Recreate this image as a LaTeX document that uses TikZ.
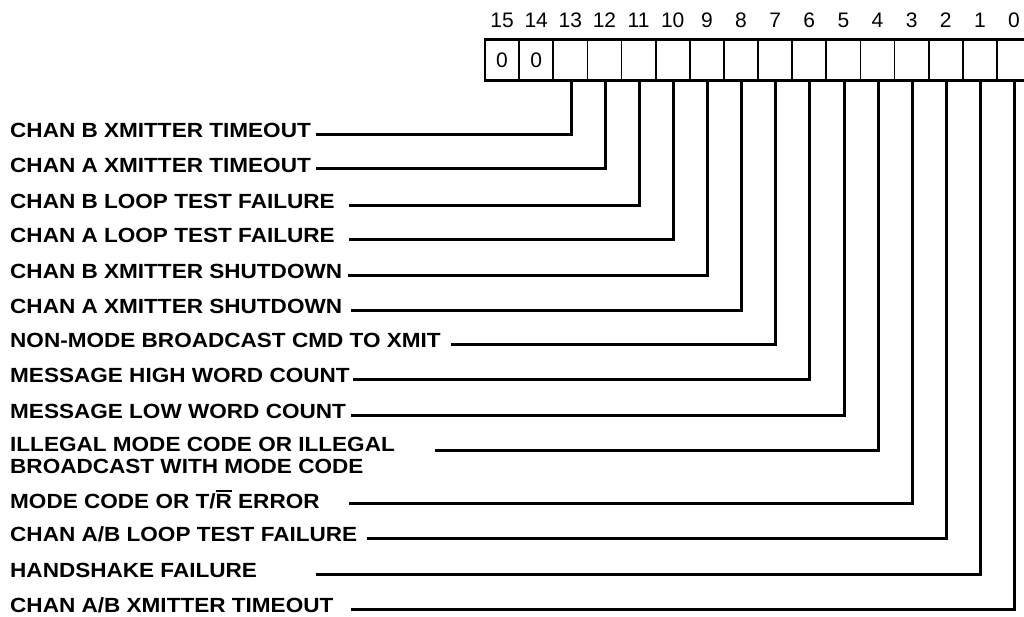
\documentclass[tikz,border=0pt]{standalone}
\usepackage{fontspec}
\setmainfont{Liberation Sans}
\newfontfamily\lblfont{Liberation Sans}[FakeStretch=1.1]
\newcommand\overR{{\setbox0\hbox{R}\rlap{\rule[\dimexpr\ht0+2.2pt\relax]{\wd0}{1.6pt}}R}}
\tikzset{
  cell/.style={draw, line width=1.8pt, minimum width=34.13pt, minimum height=41pt,
    inner sep=0pt, outer sep=0pt, font=\fontsize{21}{21}\selectfont},
  bitnum/.style={anchor=base, inner sep=0pt, font=\fontsize{21}{21}\selectfont},
  lbl/.style={anchor=base west, inner sep=0pt, align=left,
    font=\lblfont\bfseries\fontsize{20.5}{22.3}\selectfont},
  wire/.style={line width=3pt, line join=miter}
}
\begin{document}
\begin{tikzpicture}[x=1pt, y=-1pt]
\fill[white] (0,0) rectangle (1024,616);
\clip (0,0) rectangle (1024,616);
% register cells
\foreach \b in {0,...,13} {
  \node[cell] (c\b) at ({485+34.13*(15-\b)+17.065},60) {};
}
\node[cell] (c14) at ({485+34.13*1+17.065},60) {\raisebox{-1.7pt}{0}};
\node[cell] (c15) at ({485+17.065},60) {\raisebox{-1.7pt}{0}};
\draw[line width=2.3pt] (c15.north west) rectangle (c0.south east);
% bit numbers
\foreach \b in {0,...,15} {
  \node[bitnum] (n\b) at ({485+34.13*(15-\b)+17.065},27.3) {\b};
}
% labels
\node[lbl] (l13) at (10,137.8) {CHAN B XMITTER TIMEOUT};
\node[lbl] (l12) at (10,172.3) {CHAN A XMITTER TIMEOUT};
\node[lbl] (l11) at (10,208.5) {CHAN B LOOP TEST FAILURE};
\node[lbl] (l10) at (10,242.8) {CHAN A LOOP TEST FAILURE};
\node[lbl] (l9) at (10,278.5) {CHAN B XMITTER SHUTDOWN};
\node[lbl] (l8) at (10,313.5) {CHAN A XMITTER SHUTDOWN};
\node[lbl] (l7) at (10,347.5) {NON-MODE BROADCAST CMD TO XMIT};
\node[lbl] (l6) at (10,382.8) {MESSAGE HIGH WORD COUNT};
\node[lbl] (l5) at (10,418.5) {MESSAGE LOW WORD COUNT};
\node[lbl] (l4) at (10,473.8) {ILLEGAL MODE CODE OR ILLEGAL\\BROADCAST WITH MODE CODE};
\node[lbl] (l3) at (10,508.3) {MODE CODE OR T/\overR{} ERROR};
\node[lbl] (l2) at (10,541.8) {CHAN A/B LOOP TEST FAILURE};
\node[lbl] (l1) at (10,577.8) {HANDSHAKE FAILURE};
\node[lbl] (l0) at (10,612.8) {CHAN A/B XMITTER TIMEOUT};
% connector start points
\coordinate (s13) at (316,134.3);
\coordinate (s12) at (316,168.8);
\coordinate (s11) at (349,205);
\coordinate (s10) at (349,239.3);
\coordinate (s9) at (348,275);
\coordinate (s8) at (351,310);
\coordinate (s7) at (451,344);
\coordinate (s6) at (353,379.3);
\coordinate (s5) at (351,415);
\coordinate (s4) at (435,450.7);
\coordinate (s3) at (349,503.3);
\coordinate (s2) at (367,538.3);
\coordinate (s1) at (316,574.3);
\coordinate (s0) at (351,609.3);
\foreach \b in {0,...,13} {
  \draw[wire] (s\b) -| ([xshift=0.7pt]c\b.south);
}
\end{tikzpicture}
\end{document}
